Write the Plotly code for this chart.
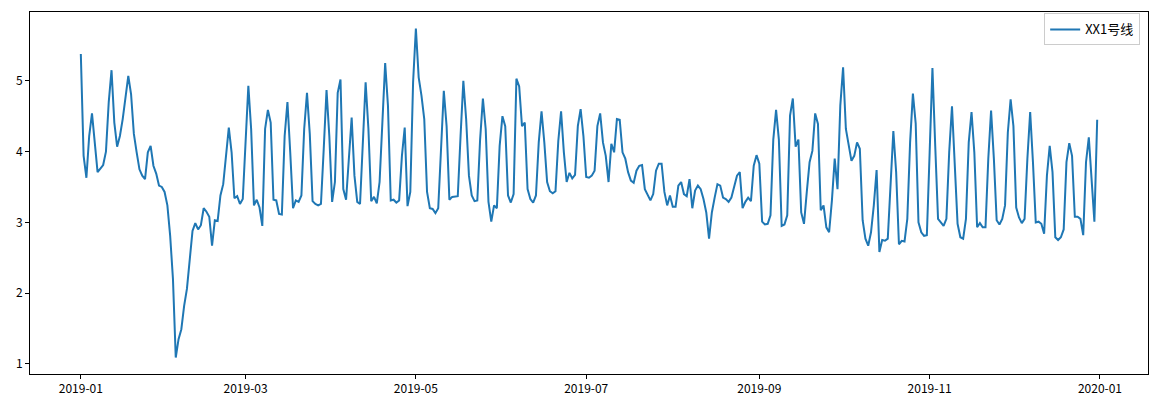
import pandas as pd
import plotly.graph_objects as go

series_name = "XX1号线"
start_date = "2019-01-01"
values = [
    5.38, 3.94, 3.63, 4.22, 4.54, 4.10, 3.71, 3.76, 3.81, 4.00,
    4.70, 5.15, 4.41, 4.07, 4.22, 4.46, 4.74, 5.07, 4.81, 4.25,
    3.99, 3.75, 3.66, 3.61, 3.99, 4.08, 3.80, 3.69, 3.52, 3.50,
    3.43, 3.24, 2.81, 2.20, 1.09, 1.35, 1.49, 1.82, 2.06, 2.48,
    2.88, 2.99, 2.90, 2.96, 3.20, 3.15, 3.08, 2.67, 3.03, 3.02,
    3.38, 3.54, 3.90, 4.34, 3.99, 3.34, 3.37, 3.26, 3.33, 4.08,
    4.93, 4.32, 3.24, 3.32, 3.21, 2.95, 4.32, 4.59, 4.41, 3.32,
    3.31, 3.12, 3.11, 4.22, 4.70, 3.99, 3.20, 3.31, 3.29, 3.38,
    4.32, 4.83, 4.25, 3.30, 3.26, 3.24, 3.26, 4.04, 4.87, 4.22,
    3.29, 3.57, 4.83, 5.02, 3.47, 3.32, 3.85, 4.48, 3.66, 3.29,
    3.26, 4.22, 4.98, 4.32, 3.30, 3.36, 3.27, 3.57, 4.32, 5.25,
    4.65, 3.31, 3.32, 3.28, 3.31, 3.94, 4.34, 3.23, 3.43, 4.98,
    5.74, 5.05, 4.79, 4.46, 3.43, 3.20, 3.19, 3.13, 3.20, 4.04,
    4.86, 4.36, 3.32, 3.36, 3.37, 3.37, 4.22, 5.00, 4.46, 3.66,
    3.38, 3.30, 3.31, 4.17, 4.75, 4.32, 3.29, 3.01, 3.24, 3.20,
    4.08, 4.50, 4.36, 3.38, 3.28, 3.40, 5.03, 4.92, 4.36, 4.41,
    3.47, 3.33, 3.28, 3.38, 4.13, 4.57, 4.13, 3.57, 3.44, 3.41,
    3.44, 4.15, 4.57, 3.99, 3.57, 3.70, 3.62, 3.67, 4.36, 4.60,
    4.22, 3.64, 3.63, 3.66, 3.73, 4.36, 4.54, 4.13, 3.94, 3.57,
    4.11, 3.99, 4.46, 4.45, 3.99, 3.90, 3.71, 3.59, 3.56, 3.73,
    3.80, 3.81, 3.47, 3.40, 3.31, 3.40, 3.73, 3.83, 3.83, 3.43,
    3.24, 3.38, 3.22, 3.22, 3.52, 3.57, 3.40, 3.37, 3.61, 3.20,
    3.45, 3.52, 3.47, 3.33, 3.14, 2.77, 3.14, 3.35, 3.54, 3.52,
    3.35, 3.33, 3.29, 3.35, 3.50, 3.66, 3.71, 3.20, 3.29, 3.35,
    3.30, 3.80, 3.95, 3.83, 3.01, 2.97, 2.98, 3.10, 4.17, 4.59,
    4.17, 2.95, 2.97, 3.10, 4.51, 4.75, 4.07, 4.17, 3.14, 2.98,
    3.43, 3.85, 4.01, 4.54, 4.39, 3.17, 3.24, 2.93, 2.86, 3.31,
    3.90, 3.47, 4.65, 5.19, 4.32, 4.06, 3.87, 3.94, 4.13, 4.04,
    3.03, 2.77, 2.67, 2.86, 3.24, 3.74, 2.58, 2.75, 2.74, 2.77,
    3.57, 4.29, 3.71, 2.69, 2.74, 2.73, 3.05, 4.13, 4.82, 4.40,
    3.00, 2.86, 2.81, 2.82, 3.99, 5.18, 4.08, 3.05, 3.00, 2.95,
    3.05, 3.99, 4.64, 3.90, 2.98, 2.79, 2.77, 3.05, 4.13, 4.56,
    3.99, 2.93, 2.99, 2.93, 2.93, 3.90, 4.58, 3.90, 3.03, 2.97,
    3.05, 3.24, 4.27, 4.74, 4.36, 3.21, 3.07, 2.99, 3.05, 3.90,
    4.56, 3.85, 3.00, 3.01, 2.98, 2.84, 3.66, 4.08, 3.71, 2.79,
    2.75, 2.79, 2.90, 3.85, 4.12, 3.94, 3.08, 3.08, 3.05, 2.82,
    3.85, 4.20, 3.61, 3.01, 4.45,
]
xtick_dates = ["2019-01-01", "2019-03-01", "2019-05-01", "2019-07-01",
               "2019-09-01", "2019-11-01", "2020-01-01"]
xtick_labels = ["2019-01", "2019-03", "2019-05", "2019-07",
                "2019-09", "2019-11", "2020-01"]
ytick_values = [1, 2, 3, 4, 5]

dates = pd.date_range(start_date, periods=len(values), freq="D")

# matplotlib-like 5% margins
span_x = dates[-1] - dates[0]
x_range = [dates[0] - span_x * 0.05, dates[-1] + span_x * 0.05]
vmin, vmax = min(values), max(values)
span_y = vmax - vmin
y_range = [vmin - 0.05 * span_y, vmax + 0.05 * span_y]

font_family = "Noto Sans CJK SC, DejaVu Sans, sans-serif"

fig = go.Figure()
fig.add_trace(go.Scatter(
    x=dates, y=values, mode="lines", name=series_name,
    line=dict(color="#1f77b4", width=2),
    showlegend=True,
))

axis_common = dict(
    showline=True, linecolor="black", linewidth=1, mirror=True,
    ticks="outside", ticklen=4, tickwidth=1, tickcolor="black",
    showgrid=False, zeroline=False, automargin=False,
    tickfont=dict(family=font_family, size=12, color="black"),
)

fig.update_layout(
    width=1164, height=400,
    margin=dict(l=30, r=16, t=12, b=26),
    paper_bgcolor="white", plot_bgcolor="white",
    font=dict(family=font_family, size=12, color="black"),
    showlegend=True,
    legend=dict(
        x=0.993, y=0.996, xanchor="right", yanchor="top",
        bordercolor="#cccccc", borderwidth=1, bgcolor="rgba(255,255,255,0.8)",
        font=dict(family=font_family, size=13, color="black"),
    ),
    xaxis=dict(range=x_range, tickmode="array", tickvals=pd.to_datetime(xtick_dates),
               ticktext=xtick_labels, **axis_common),
    yaxis=dict(range=y_range, tickmode="array", tickvals=ytick_values,
               ticktext=[str(v) for v in ytick_values], **axis_common),
)

fig.write_html("out.html",
               config={"displayModeBar": False},
               post_script="document.body.style.margin='0';document.body.style.overflow='hidden';")
